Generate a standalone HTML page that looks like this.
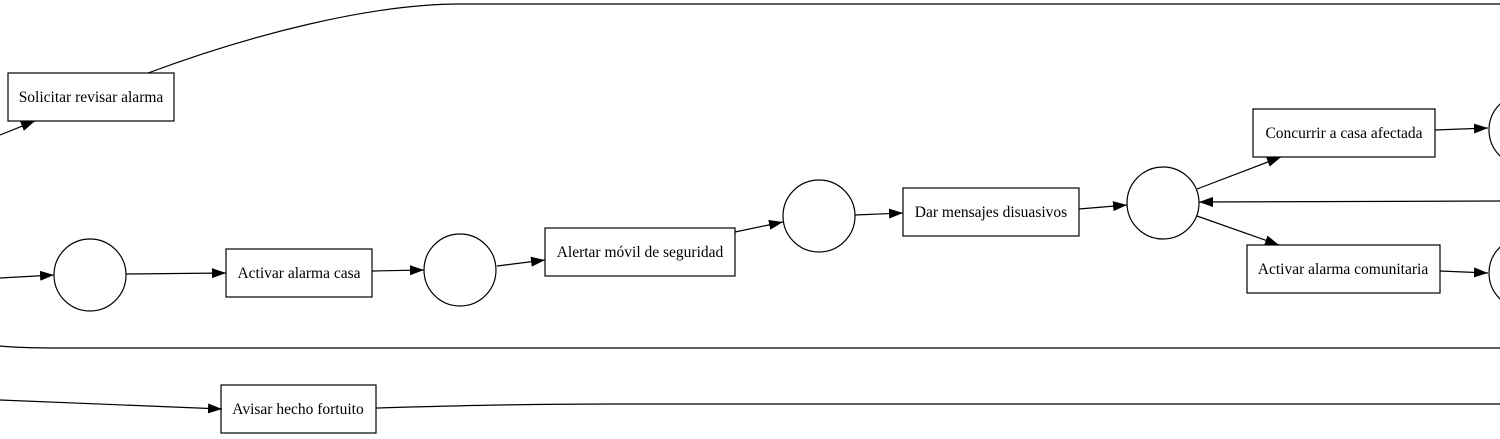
<!DOCTYPE html>
<html><head><meta charset="utf-8"><style>
html,body{margin:0;padding:0;background:#fff;}
svg{display:block;}
text{font-family:"Liberation Serif",serif;font-size:15.5px;fill:#000;}
</style></head><body>
<svg width="1500" height="439" viewBox="0 0 1500 439" xmlns="http://www.w3.org/2000/svg">
<defs>
<marker id="a" markerWidth="14" markerHeight="10" refX="14" refY="5" orient="auto" markerUnits="userSpaceOnUse">
<path d="M0,0 L14,5 L0,10 Z" fill="#000"/>
</marker>
</defs>
<g fill="none" stroke="#000" stroke-width="1.2">
<path d="M148,73 C250,35 370,4 460,4 L1500,4"/>
<path d="M0,135 L35,121" marker-end="url(#a)"/>
<rect x="8" y="73" width="166" height="48" fill="#fff"/>
<path d="M0,278 L54,275" marker-end="url(#a)"/>
<circle cx="90" cy="275" r="36"/>
<path d="M126,274 L226,273" marker-end="url(#a)"/>
<rect x="226" y="249" width="146" height="48"/>
<path d="M372,271 L424,270" marker-end="url(#a)"/>
<circle cx="460" cy="270" r="36"/>
<path d="M497,266 L545,260" marker-end="url(#a)"/>
<rect x="545" y="228" width="190" height="48"/>
<path d="M735,232 L783,222" marker-end="url(#a)"/>
<circle cx="819" cy="216" r="36"/>
<path d="M855,215 L903,213" marker-end="url(#a)"/>
<rect x="903" y="188" width="176" height="48"/>
<path d="M1079,209 L1127,205" marker-end="url(#a)"/>
<circle cx="1163" cy="203" r="36"/>
<path d="M1197,189 L1281,157" marker-end="url(#a)"/>
<rect x="1253" y="109" width="182" height="48"/>
<path d="M1435,130 L1488,128" marker-end="url(#a)"/>
<circle cx="1525" cy="130" r="36"/>
<path d="M1500,201 L1199,202" marker-end="url(#a)"/>
<path d="M1197,216 L1279,245" marker-end="url(#a)"/>
<rect x="1247" y="245" width="193" height="48"/>
<path d="M1440,271 L1488,273" marker-end="url(#a)"/>
<circle cx="1525" cy="273" r="36"/>
<path d="M0,346 C20,348 40,348 60,348 L1500,348"/>
<path d="M0,400 L222,409" marker-end="url(#a)"/>
<rect x="221" y="385" width="155" height="48"/>
<path d="M376,408 C450,406 520,404 610,404 L1500,404"/>
</g>
<text x="91" y="102" text-anchor="middle">Solicitar revisar alarma</text>
<text x="299" y="278" text-anchor="middle">Activar alarma casa</text>
<text x="640" y="257" text-anchor="middle">Alertar móvil de seguridad</text>
<text x="991" y="217" text-anchor="middle">Dar mensajes disuasivos</text>
<text x="1344" y="138" text-anchor="middle">Concurrir a casa afectada</text>
<text x="1343" y="274" text-anchor="middle">Activar alarma comunitaria</text>
<text x="298" y="414" text-anchor="middle">Avisar hecho fortuito</text>
</svg>
</body></html>
